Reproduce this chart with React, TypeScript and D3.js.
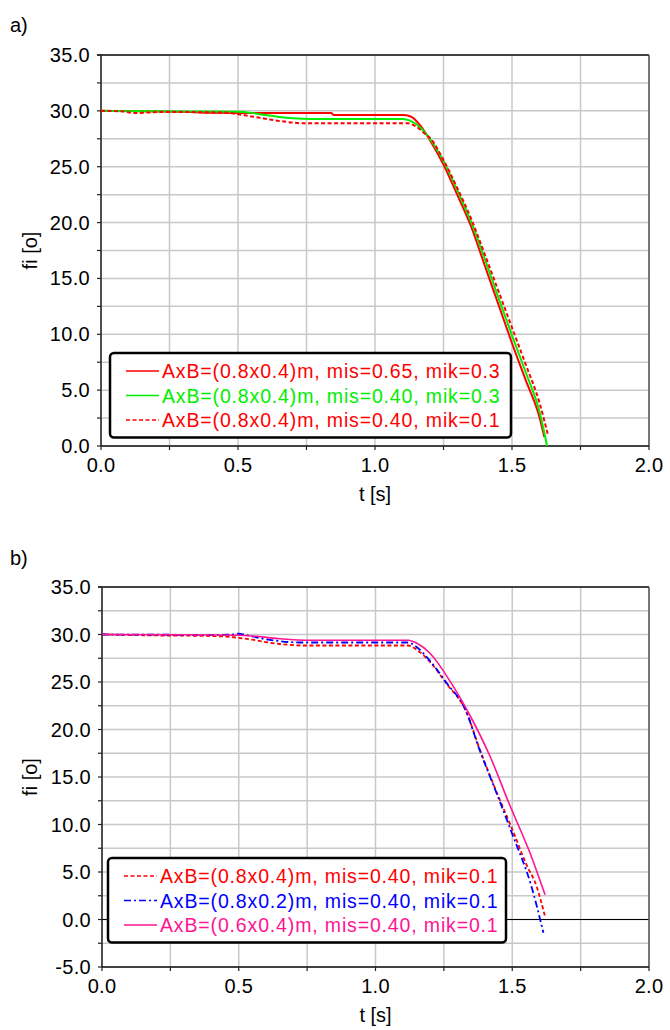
import React from 'react';
import * as d3 from 'd3';

// ---- panel a) : series (t [s], fi [o]) ----
const tA1 = [0, 0.1, 0.2, 0.3, 0.4, 0.6, 0.84, 0.85, 1.1, 1.13, 1.165, 1.2, 1.25, 1.3, 1.35, 1.4, 1.45, 1.5, 1.55, 1.6, 1.618];
const vA1 = [30, 29.98, 29.95, 29.92, 29.82, 29.8, 29.8, 29.62, 29.62, 29.5, 28.7, 27.4, 25.2, 22.5, 19.7, 16.2, 12.7, 9.2, 5.9, 2.6, 0.8];
const tA2 = [0, 0.3, 0.5, 0.55, 0.6, 0.65, 0.7, 0.77, 1.1, 1.13, 1.17, 1.2, 1.25, 1.3, 1.35, 1.4, 1.45, 1.5, 1.55, 1.6, 1.628];
const vA2 = [30, 29.95, 29.92, 29.82, 29.62, 29.45, 29.33, 29.27, 29.27, 29.1, 28.4, 27.5, 25.5, 22.9, 20.1, 16.8, 13.3, 9.9, 6.6, 3.1, 0];
const tA3 = [0, 0.08, 0.12, 0.17, 0.22, 0.45, 0.5, 0.55, 0.6, 0.65, 0.7, 0.74, 1.12, 1.15, 1.18, 1.2, 1.25, 1.3, 1.35, 1.4, 1.45, 1.5, 1.55, 1.6, 1.632];
const vA3 = [30, 29.95, 29.8, 29.85, 29.9, 29.85, 29.7, 29.5, 29.3, 29.1, 28.95, 28.88, 28.88, 28.6, 28.0, 27.6, 25.6, 23.1, 20.4, 17.2, 13.9, 10.6, 7.3, 3.9, 0.9];

// ---- panel b) ----
const tB1 = [0, 0.1, 0.2, 0.38, 0.45, 0.5, 0.55, 0.6, 0.65, 0.7, 0.735, 1.12, 1.15, 1.2, 1.26, 1.33, 1.38, 1.44, 1.5, 1.55, 1.59, 1.62];
const vB1 = [30, 29.95, 29.9, 29.85, 29.78, 29.65, 29.45, 29.2, 29.0, 28.88, 28.84, 28.84, 28.4, 27.1, 24.8, 22.0, 18.0, 13.6, 9.5, 5.9, 3.4, 0.3];
const tB2 = [0, 0.2, 0.4, 0.48, 0.5, 0.52, 0.55, 0.6, 0.65, 0.72, 1.12, 1.14, 1.2, 1.26, 1.33, 1.38, 1.44, 1.5, 1.57, 1.614];
const vB2 = [30, 29.98, 29.95, 30.0, 30.08, 30.0, 29.8, 29.5, 29.3, 29.16, 29.16, 28.9, 27.2, 24.9, 22.0, 17.9, 13.5, 9.0, 3.5, -1.4];
const tB3 = [0, 0.3, 0.5, 0.55, 0.6, 0.65, 0.7, 0.75, 1.12, 1.15, 1.2, 1.27, 1.345, 1.42, 1.49, 1.565, 1.62];
const vB3 = [30, 29.97, 29.92, 29.85, 29.7, 29.55, 29.45, 29.4, 29.4, 29.1, 28.0, 25.2, 21.5, 17.1, 12.1, 7.0, 2.6];

const legendA = [
  'AxB=(0.8x0.4)m, mis=0.65, mik=0.3',
  'AxB=(0.8x0.4)m, mis=0.40, mik=0.3',
  'AxB=(0.8x0.4)m, mis=0.40, mik=0.1',
];
const legendB = [
  'AxB=(0.8x0.4)m, mis=0.40, mik=0.1',
  'AxB=(0.8x0.2)m, mis=0.40, mik=0.1',
  'AxB=(0.6x0.4)m, mis=0.40, mik=0.1',
];

const FONT = '"Liberation Sans", Arial, sans-serif';
const RED = '#ff0000';
const GREEN = '#00ee00';
const BLUE = '#0000ff';
const PINK = '#ff1493';

type Series = { t: number[]; v: number[]; color: string; dash?: string; width: number; label: string };

const zip = (t: number[], v: number[]) => t.map((x, i) => [x, v[i]] as [number, number]);

function Panel(props: {
  tag: string; tagY: number;
  x0: number; x1: number; yTop: number; yBot: number;
  yMin: number; series: Series[];
  legX: number; legY: number; legW: number; zeroLine?: boolean;
}) {
  const { x0, x1, yTop, yBot, yMin, series } = props;
  const x = d3.scaleLinear().domain([0, 2]).range([x0, x1]);
  const y = d3.scaleLinear().domain([yMin, 35]).range([yBot, yTop]);
  const line = d3.line<[number, number]>().x(d => x(d[0])).y(d => y(d[1])).curve(d3.curveMonotoneX);
  const xGrid = d3.range(0, 2.0001, 0.25);
  const yGrid = d3.range(yMin, 35.0001, 2.5);
  const xMajor = d3.range(0, 2.0001, 0.5);
  const yMajor = d3.range(yMin, 35.0001, 5);
  const rowH = 24.5;
  const legH = rowH * 3 + 11;
  return (
    <g>
      <text x={10} y={props.tagY} fontSize={20} fontFamily={FONT} fill="#000">{props.tag}</text>
      {xGrid.map(t => (
        <line key={'gx' + t} x1={x(t)} x2={x(t)} y1={yTop} y2={yBot} stroke="#c8c8c8" strokeWidth={1.5} />
      ))}
      {yGrid.map(v => (
        <line key={'gy' + v} x1={x0} x2={x1} y1={y(v)} y2={y(v)} stroke="#c8c8c8" strokeWidth={1.5} />
      ))}
      {props.zeroLine && <line x1={x0} x2={x1} y1={y(0)} y2={y(0)} stroke="#000" strokeWidth={1} />}
      <line x1={x0 - 4} x2={x1} y1={yTop} y2={yTop} stroke="#111" strokeWidth={1.5} />
      <line x1={x1} x2={x1} y1={yTop} y2={yBot} stroke="#555" strokeWidth={1.5} />
      <line x1={x0} x2={x0} y1={yTop} y2={yBot} stroke="#222" strokeWidth={1.5} />
      <line x1={x0} x2={x1} y1={yBot} y2={yBot} stroke="#111" strokeWidth={1.5} />
      {yGrid.map(v => (
        <line key={'ty' + v} x1={x0 - 4} x2={x0} y1={y(v)} y2={y(v)} stroke="#222" strokeWidth={1.2} />
      ))}
      {xGrid.map(t => (
        <line key={'tx' + t} x1={x(t)} x2={x(t)} y1={yBot} y2={yBot + 4} stroke="#222" strokeWidth={1.2} />
      ))}
      {yMajor.map(v => (
        <text key={'ly' + v} x={x0 - 11} y={y(v) + 7} textAnchor="end" fontSize={20} letterSpacing={0.3}
          fontFamily={FONT} fill="#000">{v.toFixed(1)}</text>
      ))}
      {xMajor.map(t => (
        <text key={'lx' + t} x={x(t)} y={yBot + 26} textAnchor="middle" fontSize={20} letterSpacing={0.3}
          fontFamily={FONT} fill="#000">{t.toFixed(1)}</text>
      ))}
      <text x={(x0 + x1) / 2} y={yBot + 55} textAnchor="middle" fontSize={20} fontFamily={FONT} fill="#000">t [s]</text>
      <text transform={`translate(37,${(yTop + yBot) / 2}) rotate(-90)`} textAnchor="middle" fontSize={20}
        fontFamily={FONT} fill="#000">fi [o]</text>
      {series.map((s, i) => (
        <path key={'s' + i} d={line(zip(s.t, s.v)) || ''} fill="none" stroke={s.color}
          strokeWidth={s.width} strokeDasharray={s.dash} />
      ))}
      <rect x={props.legX} y={props.legY} width={props.legW} height={legH} rx={4} fill="#fff" stroke="#000" strokeWidth={2.5} />
      {series.map((s, i) => {
        const cy = props.legY + 18 + i * rowH;
        return (
          <g key={'l' + i}>
            <line x1={props.legX + 16} x2={props.legX + 49} y1={cy} y2={cy} stroke={s.color}
              strokeWidth={1.5} strokeDasharray={s.dash} />
            <text x={props.legX + 52} y={cy + 7} fontSize={19.5} letterSpacing={0.85} fontFamily={FONT}
              fill={s.color}>{s.label}</text>
          </g>
        );
      })}
    </g>
  );
}

export default function App() {
  const seriesA: Series[] = [
    { t: tA1, v: vA1, color: RED, width: 2, label: legendA[0] },
    { t: tA2, v: vA2, color: GREEN, width: 2, label: legendA[1] },
    { t: tA3, v: vA3, color: RED, width: 2, dash: '4,2.5', label: legendA[2] },
  ];
  const seriesB: Series[] = [
    { t: tB1, v: vB1, color: RED, width: 1.8, dash: '4,2.5', label: legendB[0] },
    { t: tB2, v: vB2, color: BLUE, width: 1.8, dash: '7,3,2,3', label: legendB[1] },
    { t: tB3, v: vB3, color: PINK, width: 1.6, label: legendB[2] },
  ];
  return (
    <svg width={670} height={1030} style={{ position: 'absolute', left: 0, top: 0, background: '#fff' }}>
      <rect width={670} height={1030} fill="#fff" />
      <Panel tag="a)" tagY={32} x0={101} x1={649} yTop={55} yBot={446} yMin={0} series={seriesA}
        legX={110} legY={353} legW={401} />
      <Panel tag="b)" tagY={565} x0={102} x1={649} yTop={587} yBot={967} yMin={-5} series={seriesB}
        legX={108} legY={858} legW={398} zeroLine />
    </svg>
  );
}
